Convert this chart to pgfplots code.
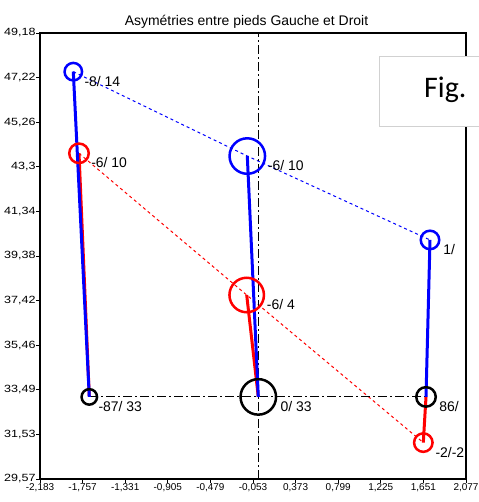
\documentclass[border=0pt]{standalone}
\usepackage{pgfplots}
\pgfplotsset{compat=1.18}
\usepackage{fontspec}
\setmainfont{Liberation Sans}
\newfontfamily\figfont{Carlito}
\newfontfamily\widefont[FakeStretch=1.2]{Liberation Sans}
\pgfplotsset{
  lbl/.style={nodes near coords, point meta=explicit symbolic,
    nodes near coords style={anchor=base west, inner sep=0pt, xshift=#1, yshift=-14.5bp,
      text=black, font=\fontsize{14}{14}\selectfont}},
  circ/.style={only marks, mark=o, mark options={solid, line width=2.5bp}}
}
\begin{document}
\begin{tikzpicture}
\begin{axis}[
  at={(40bp,23bp)}, anchor=south west,
  scale only axis, width=426bp, height=446bp,
  xmin=-2.183, xmax=2.077, ymin=29.57, ymax=49.18,
  axis line style={line width=1.5bp},
  xtick={-2.183,-1.757,-1.331,-0.905,-0.479,-0.053,0.373,0.799,1.225,1.651,2.077},
  xticklabels={{-2,183},{-1,757},{-1,331},{-0,905},{-0,479},{-0,053},{0,373},{0,799},{1,225},{1,651},{2,077}},
  ytick={29.57,31.531,33.492,35.453,37.414,39.375,41.336,43.297,45.258,47.219,49.18},
  yticklabels={{29,57},{31,53},{33,49},{35,46},{37,42},{39,38},{41,34},{43,3},{45,26},{47,22},{49,18}},
  tick align=outside, xtick pos=bottom, ytick pos=left,
  major tick length=3.5bp,
  tick style={black, line width=0.8bp},
  xticklabel style={font=\fontsize{10}{12}\selectfont, inner sep=1bp},
  yticklabel style={font=\widefont\fontsize{10.5}{12}\selectfont, inner sep=0.8bp},
]
% dashed connecting lines
\addplot[blue, line width=1bp, dash pattern=on 3bp off 3bp] coordinates {(-1.85,47.48) (-0.11,43.77) (1.717,40.08)};
\addplot[red, line width=1bp, dash pattern=on 3bp off 3bp] coordinates {(-1.793,43.89) (-0.116,37.66) (1.65,31.17)};
% reference dash-dot lines
\addplot[black, line width=1bp, dash pattern=on 9bp off 3bp on 2bp off 3bp] coordinates {(-1.69,33.18) (1.677,33.18)};
\addplot[black, line width=1bp, dash pattern=on 9bp off 3bp on 2bp off 3bp] coordinates {(0,29.57) (0,49.18)};
% red thick lines
\addplot[red, line width=3bp] coordinates {(-1.793,43.89) (-1.69,33.18)};
\addplot[red, line width=3bp] coordinates {(-0.116,37.66) (0,33.18)};
\addplot[red, line width=3bp] coordinates {(1.65,31.17) (1.677,33.18)};
% red circles
\addplot[red, circ, mark size=9.75bp, lbl=11bp] coordinates {(-1.793,43.89) [-6/ 10]};
\addplot[red, circ, mark size=17.25bp, lbl=19bp] coordinates {(-0.116,37.66) [-6/ 4]};
\addplot[red, circ, mark size=9.25bp, lbl=11bp] coordinates {(1.65,31.17) [-2/-2]};
% blue thick lines
\addplot[blue, line width=3bp] coordinates {(-1.85,47.48) (-1.69,33.18)};
\addplot[blue, line width=3bp] coordinates {(-0.11,43.77) (0,33.18)};
\addplot[blue, line width=3bp] coordinates {(1.717,40.08) (1.677,33.18)};
% blue circles
\addplot[blue, circ, mark size=8.75bp, lbl=10bp] coordinates {(-1.85,47.48) [-8/ 14]};
\addplot[blue, circ, mark size=17.75bp, lbl=19.5bp] coordinates {(-0.11,43.77) [-6/ 10]};
\addplot[blue, circ, mark size=9.25bp, lbl=12bp] coordinates {(1.717,40.08) [1/]};
% black circles
\addplot[black, circ, mark size=7.75bp, lbl=8bp] coordinates {(-1.69,33.18) [-87/ 33]};
\addplot[black, circ, mark size=17.75bp, lbl=21bp] coordinates {(0,33.18) [0/ 33]};
\addplot[black, circ, mark size=9.75bp, lbl=12bp] coordinates {(1.677,33.18) [86/]};
\end{axis}
\draw[black, line width=1.5bp] (40bp,23bp) rectangle (466bp,469bp);
\node[anchor=base, inner sep=0pt, font=\fontsize{14}{14}\selectfont] at (246.5bp,476bp) {Asymétries entre pieds Gauche et Droit};
\draw[black!18, fill=white, line width=1bp] (379bp,375bp) rectangle (495bp,445bp);
\node[anchor=base west, inner sep=0pt, font=\figfont\fontsize{30}{30}\selectfont] at (424bp,404bp) {Fig.};
\pgfresetboundingbox
\useasboundingbox (0,0) rectangle (479bp,502bp);
\end{tikzpicture}
\end{document}
